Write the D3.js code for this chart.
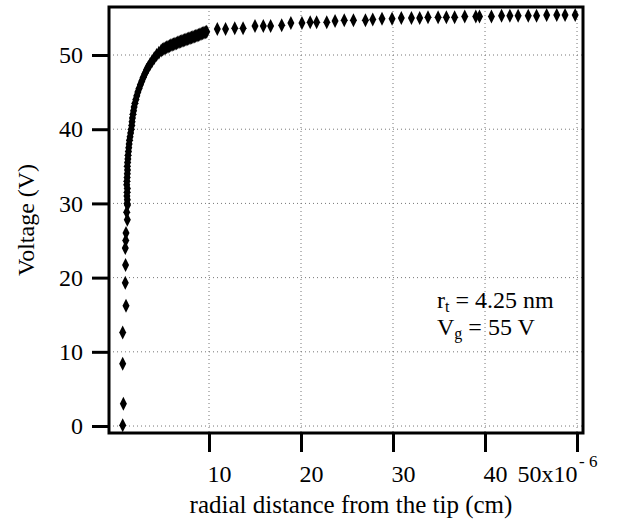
<!DOCTYPE html>
<html>
<head>
<meta charset="utf-8">
<script src="https://cdn.jsdelivr.net/npm/d3@7"></script>
<style>
  html, body { margin: 0; padding: 0; background: #fff; }
  svg { display: block; font-family: "Liberation Serif", "DejaVu Serif", serif; }
</style>
</head>
<body>
<div id="chart"></div>
<script>
// tick values
const xTicks = [10, 20, 30, 40, 50];
const yTicks = [0, 10, 20, 30, 40, 50];

// steep low part (sparse points near the tip)
const lowX = [0.62, 0.69, 0.62, 0.62, 0.98, 0.90, 0.93, 0.90, 0.95, 0.98, 1.12, 1.05, 1.14];
const lowY = [0.1, 3.0, 8.4, 12.6, 16.2, 19.3, 21.7, 24.0, 25.0, 26.0, 27.8, 28.8, 29.8];

// dense knee of the curve
const kneeX = [1.10, 1.12, 1.08, 1.10, 1.12, 1.06, 1.08, 1.10, 1.12, 1.14, 1.12, 1.15, 1.18, 1.20,
  1.24, 1.28, 1.32, 1.36, 1.42, 1.48, 1.55, 1.60, 1.64, 1.68, 1.74, 1.80, 1.86, 1.95, 2.05, 2.15,
  2.27, 2.40, 2.54, 2.70, 2.86, 3.04, 3.22, 3.40, 3.60, 3.82, 4.05, 4.30, 4.55, 4.80,
  4.95, 5.10, 5.25, 5.40, 5.55, 5.70, 5.85, 6.00, 6.15, 6.30, 6.45, 6.60, 6.75, 6.90, 7.05, 7.20,
  7.35, 7.50, 7.65, 7.80, 7.95, 8.10, 8.25, 8.40, 8.55, 8.70, 8.85, 9.00, 9.15, 9.30, 9.45, 9.60, 9.75];
const kneeY = [30.0, 30.5, 31.0, 31.5, 32.0, 32.5, 33.0, 33.5, 34.0, 34.5, 35.0, 35.5, 36.0, 36.5,
  37.0, 37.5, 38.0, 38.5, 39.0, 39.5, 40.0, 40.5, 41.0, 41.5, 42.0, 42.5, 43.0, 43.5, 44.0, 44.5,
  45.0, 45.5, 46.0, 46.5, 47.0, 47.5, 48.0, 48.4, 48.8, 49.2, 49.6, 50.0, 50.3, 50.6,
  50.75, 50.85, 50.95, 51.05, 51.12, 51.2, 51.3, 51.38, 51.45, 51.52, 51.6, 51.68, 51.75, 51.82, 51.88, 51.95,
  52.02, 52.08, 52.15, 52.22, 52.28, 52.35, 52.42, 52.5, 52.56, 52.62, 52.7, 52.78, 52.85, 52.92, 53.0, 53.08, 53.15];

// plateau points far from the tip
const farX = [10.9, 11.8, 12.8, 13.7, 15.0, 15.9, 16.7, 17.9, 18.9, 20.1, 21.0, 21.7, 22.8, 23.7, 24.7,
  25.7, 27.0, 27.8, 28.8, 29.9, 30.9, 32.0, 32.9, 33.8, 34.9, 35.8, 36.7, 37.8, 39.0, 39.4,
  40.7, 41.8, 42.7, 43.6, 44.7, 45.6, 46.7, 47.8, 48.7, 49.8];
const farY = [53.5, 53.5, 53.6, 53.6, 53.9, 53.9, 53.9, 54.0, 54.3, 54.3, 54.4, 54.4, 54.4, 54.6, 54.7,
  54.7, 54.7, 54.8, 54.9, 54.9, 55.0, 55.0, 55.0, 55.1, 55.1, 55.1, 55.1, 55.2, 55.2, 55.2,
  55.2, 55.3, 55.3, 55.3, 55.3, 55.3, 55.4, 55.4, 55.4, 55.4];

const points = []
  .concat(lowX.map((x, i) => ({ x, y: lowY[i] })))
  .concat(kneeX.map((x, i) => ({ x, y: kneeY[i] })))
  .concat(farX.map((x, i) => ({ x, y: farY[i] })));

const width = 627, height = 524;
const margin = { top: 7, right: 44, bottom: 91, left: 109 };
const w = width - margin.left - margin.right;
const h = height - margin.top - margin.bottom;

const x = d3.scaleLinear().domain([-0.87, 50.65]).range([0, w]);
const y = d3.scaleLinear().domain([-0.94, 56.47]).range([h, 0]);

const svg = d3.select("#chart").append("svg")
  .attr("width", width).attr("height", height);
const g = svg.append("g").attr("transform", `translate(${margin.left},${margin.top})`);

// griglia punteggiata
g.append("g").selectAll("line").data(yTicks).join("line")
  .attr("x1", 0).attr("x2", w)
  .attr("y1", d => y(d)).attr("y2", d => y(d))
  .attr("stroke", "#777").attr("stroke-width", 1).attr("stroke-dasharray", "1,3");
g.append("g").selectAll("line").data(xTicks).join("line")
  .attr("y1", 0).attr("y2", h)
  .attr("x1", d => x(d)).attr("x2", d => x(d))
  .attr("stroke", "#777").attr("stroke-width", 1).attr("stroke-dasharray", "1,3");

// markers: tall narrow diamonds
const dw = 3.5, dh = 7;
g.append("g").selectAll("path").data(points).join("path")
  .attr("d", d => {
    const cx = x(d.x), cy = y(d.y);
    return `M${cx},${cy - dh}L${cx + dw},${cy}L${cx},${cy + dh}L${cx - dw},${cy}Z`;
  })
  .attr("fill", "#000");

// frame
g.append("rect").attr("x", 0).attr("y", 0).attr("width", w).attr("height", h)
  .attr("fill", "none").attr("stroke", "#000").attr("stroke-width", 3);

// y axis
g.append("g")
  .call(d3.axisLeft(y).tickValues(yTicks).tickSize(17).tickPadding(9))
  .call(a => a.select(".domain").remove())
  .call(a => a.selectAll("line").attr("stroke", "#000").attr("stroke-width", 3))
  .call(a => a.selectAll("text").attr("fill", "#000")
    .style("font-size", "24px").style("font-family", "Liberation Serif, serif"));

// x axis
g.append("g").attr("transform", `translate(0,${h})`)
  .call(d3.axisBottom(x).tickValues(xTicks).tickSize(19).tickFormat(d3.format("d")))
  .call(a => a.select(".domain").remove())
  .call(a => a.selectAll("line").attr("stroke", "#000").attr("stroke-width", 3))
  .call(a => a.selectAll("text").attr("fill", "#000").attr("y", 49).attr("dy", 0)
    .attr("text-anchor", d => d === 50 ? "end" : "start").attr("x", d => d === 50 ? 0 : -2)
    .style("font-size", "24px").style("font-family", "Liberation Serif, serif"))
  .call(a => a.selectAll("text").filter(d => d === 50).text("50x10"));

// esponente
g.append("text").attr("x", x(50) + 2).attr("y", h + 34)
  .text("- 6").attr("fill", "#000").style("font-size", "17px");

// axis titles
g.append("text").attr("x", 351 - margin.left).attr("y", h + 80)
  .attr("text-anchor", "middle").text("radial distance from the tip (cm)")
  .attr("fill", "#000").style("font-size", "25px");

svg.append("text").attr("transform", "rotate(-90)").attr("x", -220).attr("y", 34)
  .attr("text-anchor", "middle").text("Voltage (V)")
  .attr("fill", "#000").style("font-size", "24px");

// annotation
const l1 = g.append("text").attr("x", 437 - margin.left).attr("y", 308 - margin.top)
  .attr("fill", "#000").style("font-size", "24px");
l1.append("tspan").text("r");
l1.append("tspan").text("t").style("font-size", "16px").attr("dy", 4);
l1.append("tspan").text(" = 4.25 nm").attr("dy", -4);
const l2 = g.append("text").attr("x", 437 - margin.left).attr("y", 335 - margin.top)
  .attr("fill", "#000").style("font-size", "24px");
l2.append("tspan").text("V");
l2.append("tspan").text("g").style("font-size", "16px").attr("dy", 4);
l2.append("tspan").text(" = 55 V").attr("dy", -4);
</script>
</body>
</html>
